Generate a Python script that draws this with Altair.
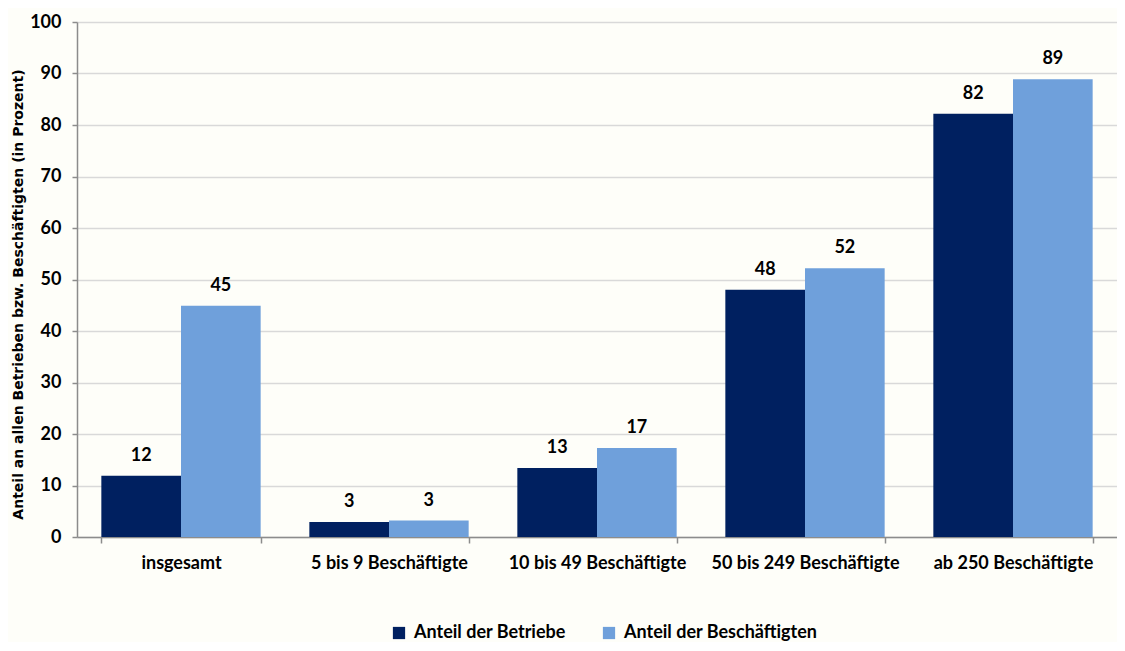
import altair as alt
import pandas as pd

categories = ["insgesamt", "5 bis 9 Beschäftigte", "10 bis 49 Beschäftigte",
              "50 bis 249 Beschäftigte", "ab 250 Beschäftigte"]
series = ["Anteil der Betriebe", "Anteil der Beschäftigten"]
betriebe = [11.9, 2.9, 13.4, 48.0, 82.2]
beschaeftigte = [44.9, 3.2, 17.3, 52.2, 88.9]
colors = ["#002060", "#6FA0DB"]

rows = []
for c, a, b in zip(categories, betriebe, beschaeftigte):
    rows.append({"Kategorie": c, "Reihe": series[0], "Wert": a})
    rows.append({"Kategorie": c, "Reihe": series[1], "Wert": b})
df = pd.DataFrame(rows)

FONT = "Lato"

x = alt.X("Kategorie:N", sort=categories, title=None,
          scale=alt.Scale(paddingInner=0.234, paddingOuter=0.117),
          axis=alt.Axis(labelAngle=0, labelFont=FONT, labelFontSize=18,
                        labelFontWeight="bold", labelColor="#000000",
                        labelPadding=11, labelLimit=300,
                        tickBand="extent", tickSize=6,
                        tickColor="#8c8c8c", domainColor="#8c8c8c",
                        domainWidth=1.5, tickWidth=1.5, grid=False))
y = alt.Y("Wert:Q", title="Anteil an allen Betrieben bzw. Beschäftigten (in Prozent)",
          scale=alt.Scale(domain=[0, 100], nice=False),
          axis=alt.Axis(values=list(range(0, 101, 10)), labelFont=FONT,
                        labelFontSize=18, labelFontWeight="bold",
                        labelColor="#000000", labelPadding=11,
                        tickSize=5, tickColor="#8c8c8c", tickWidth=1.5,
                        domainColor="#8c8c8c", domainWidth=1.5,
                        gridColor="#d9d9d9", gridWidth=1.5,
                        titleFont="DejaVu Sans", titleFontSize=14,
                        titleFontWeight="bold", titleColor="#000000",
                        titlePadding=4, titleY=272))

base = alt.Chart(df).encode(
    x=x,
    xOffset=alt.XOffset("Reihe:N", sort=series),
    y=y,
)

bars = base.mark_bar().encode(
    color=alt.Color("Reihe:N", sort=series,
                    scale=alt.Scale(domain=series, range=colors),
                    legend=alt.Legend(orient="none", legendX=313, legendY=602,
                                      direction="horizontal", title=None,
                                      symbolType="square", symbolSize=150,
                                      symbolStrokeWidth=0, symbolOpacity=1,
                                      labelFont=FONT, labelFontSize=18,
                                      labelFontWeight="bold",
                                      labelColor="#000000", labelLimit=400,
                                      labelOffset=6, columnPadding=34))
)

labels = base.mark_text(dy=-20, font=FONT, fontSize=18,
                        fontWeight="bold", color="#000000").encode(
    text=alt.Text("Wert:Q", format=".0f")
)

chart = (bars + labels).properties(
    width=1040, height=515,
    background="#FEFEF9",
    padding={"left": 3, "top": 5, "right": 0, "bottom": 0},
).configure_view(stroke=None)

chart.save("out.html", embed_options={"renderer": "svg", "actions": False})
